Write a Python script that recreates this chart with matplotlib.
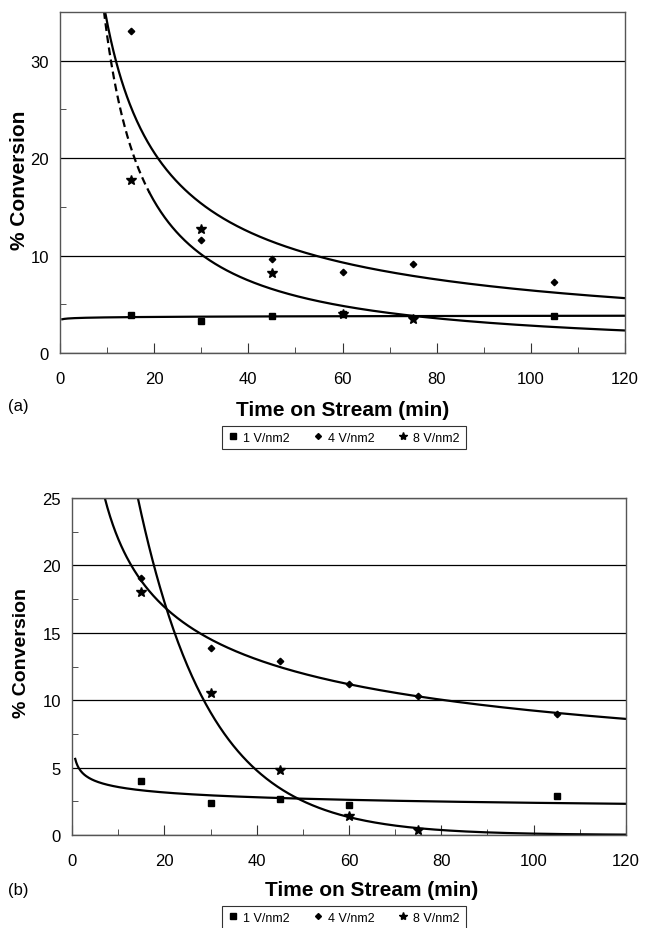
import numpy as np
import matplotlib.pyplot as plt
from matplotlib.ticker import MultipleLocator
from matplotlib.lines import Line2D

plt.rcParams['font.family'] = ['Liberation Sans', 'DejaVu Sans']

# (a) data
t_a_1v = [15, 30, 45, 60, 105]
c_a_1v = [3.9, 3.3, 3.8, 4.0, 3.8]
t_a_4v = [15, 30, 45, 60, 75, 105]
c_a_4v = [33.0, 11.6, 9.6, 8.3, 9.1, 7.3]
t_a_8v = [15, 30, 45, 60, 75]          # the 60 min point sits under the square
c_a_8v = [17.8, 12.7, 8.2, 4.0, 3.5]

# (b) data
t_b_1v = [15, 30, 45, 60, 105]
c_b_1v = [4.0, 2.4, 2.7, 2.2, 2.9]
t_b_4v = [15, 30, 45, 60, 75, 105]
c_b_4v = [19.1, 13.9, 12.9, 11.2, 10.3, 9.0]
t_b_8v = [15, 30, 45, 60, 75]
c_b_8v = [18.0, 10.5, 4.8, 1.4, 0.4]

labels = ['1 V/nm2', '4 V/nm2', '8 V/nm2']


def power_fit(x, y, t):
    b, lna = np.polyfit(np.log(x), np.log(y), 1)
    return np.exp(lna) * t ** b


def expo_fit(x, y, t):
    k, lna = np.polyfit(x, np.log(y), 1)
    return np.exp(lna + k * t)


def style_axes(ax, ymax, ymajor, yminor):
    ax.set_xlim(0, 120)
    ax.set_ylim(0, ymax)
    ax.xaxis.set_major_locator(MultipleLocator(20))
    ax.xaxis.set_minor_locator(MultipleLocator(10))
    ax.yaxis.set_major_locator(MultipleLocator(ymajor))
    ax.yaxis.set_minor_locator(MultipleLocator(yminor))
    ax.tick_params(axis='both', which='both', direction='in', labelsize=12,
                   top=False, right=False, color='#333333')
    ax.tick_params(axis='x', which='major', length=7, pad=13)
    ax.tick_params(axis='x', which='minor', length=4)
    ax.tick_params(axis='y', which='major', length=0, pad=8)
    ax.tick_params(axis='y', which='minor', length=4)
    ax.grid(axis='y', which='major', color='black', lw=0.9)
    ax.set_axisbelow(True)
    for s in ax.spines.values():
        s.set_color('#555555')
        s.set_linewidth(1.0)


def draw_points(ax, t1, c1, t4, c4, t8, c8):
    ax.plot(t8, c8, '*', color='black', ms=7, zorder=4)
    ax.plot(t4, c4, 'D', color='black', ms=3.3, zorder=5)
    ax.plot(t1, c1, 's', color='black', ms=4.8, zorder=6)


def add_legend(fig, x, y):
    handles = [Line2D([], [], ls='none', marker='s', color='black', ms=4),
               Line2D([], [], ls='none', marker='D', color='black', ms=3),
               Line2D([], [], ls='none', marker='*', color='black', ms=6)]
    leg = fig.legend(handles, labels, loc='upper left', bbox_to_anchor=(x, y),
                     borderaxespad=0, ncol=3, fontsize=9, frameon=True,
                     fancybox=False, handlelength=0.8, handletextpad=0.4,
                     columnspacing=1.9, borderpad=0.45)
    leg.get_frame().set_edgecolor('black')
    leg.get_frame().set_linewidth(0.8)


fig = plt.figure(figsize=(6.45, 9.29), dpi=100)

# ---- panel (a)
ax1 = fig.add_axes([60 / 645, 1 - 354 / 929, 565 / 645, 341 / 929])
style_axes(ax1, 35, 10, 5)
t = np.linspace(0.5, 120, 600)
ax1.plot(t, power_fit(t_a_1v, c_a_1v, t), color='black', lw=1.6)
t = np.linspace(5, 120, 600)
ax1.plot(t, power_fit(t_a_4v, c_a_4v, t), color='black', lw=1.6)
td = np.linspace(5, 19, 200)
ax1.plot(td, power_fit(t_a_8v, c_a_8v, td), color='black', lw=1.6, ls=(0, (3.5, 2)))
ts = np.linspace(19, 120, 500)
ax1.plot(ts, power_fit(t_a_8v, c_a_8v, ts), color='black', lw=1.6)
draw_points(ax1, t_a_1v, c_a_1v, t_a_4v, c_a_4v, t_a_8v, c_a_8v)
ax1.set_xlabel('Time on Stream (min)', fontsize=15, fontweight='bold', labelpad=10)
ax1.set_ylabel('% Conversion', fontsize=15, fontweight='bold', va='center')
ax1.yaxis.set_label_coords(-0.071, 0.51)
fig.text(8 / 645, 1 - 407 / 929, '(a)', fontsize=12, va='center', ha='left')
add_legend(fig, 222 / 645, 1 - 427 / 929)

# ---- panel (b)
ax2 = fig.add_axes([72 / 645, 1 - 836 / 929, 554 / 645, 337 / 929])
style_axes(ax2, 25, 5, 2.5)
t = np.linspace(0.7, 120, 600)
ax2.plot(t, power_fit(t_b_1v, c_b_1v, t), color='black', lw=1.6)
ax2.plot(t, power_fit(t_b_4v, c_b_4v, t), color='black', lw=1.6)
ax2.plot(t, expo_fit(t_b_8v, c_b_8v, t), color='black', lw=1.6)
draw_points(ax2, t_b_1v, c_b_1v, t_b_4v, c_b_4v, t_b_8v, c_b_8v)
ax2.set_xlabel('Time on Stream (min)', fontsize=15, fontweight='bold', labelpad=10)
ax2.xaxis.set_label_coords(0.54, -0.163)
ax2.xaxis.label.set_va('center')
ax2.set_ylabel('% Conversion', fontsize=14, fontweight='bold', va='center')
ax2.yaxis.set_label_coords(-0.092, 0.543)
fig.text(8 / 645, 1 - 891 / 929, '(b)', fontsize=12, va='center', ha='left')
add_legend(fig, 222 / 645, 1 - 907 / 929)

fig.savefig('out.png', dpi=100)
